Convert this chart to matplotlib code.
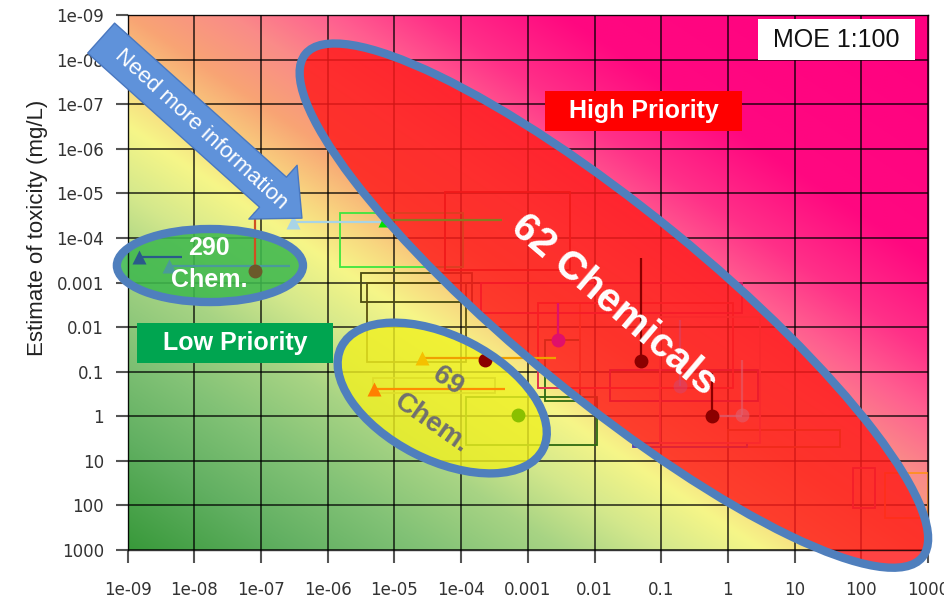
import numpy as np
import matplotlib
matplotlib.use("Agg")
import matplotlib.pyplot as plt
from matplotlib.colors import to_rgb, to_rgba
from matplotlib.patches import Ellipse, Rectangle, FancyArrowPatch, ArrowStyle
from matplotlib.transforms import Affine2D, ScaledTranslation

# ---------------- data ----------------
x_ticks = [1e-9, 1e-8, 1e-7, 1e-6, 1e-5, 1e-4, 1e-3, 1e-2, 1e-1, 1, 10, 100, 1000]
x_tick_labels = ["1e-09", "1e-08", "1e-07", "1e-06", "1e-05", "1e-04", "0.001",
                 "0.01", "0.1", "1", "10", "100", "1000"]
y_ticks = [1e-9, 1e-8, 1e-7, 1e-6, 1e-5, 1e-4, 1e-3, 1e-2, 1e-1, 1, 10, 100, 1000]
y_tick_labels = ["1e-09", "1e-08", "1e-07", "1e-06", "1e-05", "1e-04", "0.001",
                 "0.01", "0.1", "1", "10", "100", "1000"]

# uncertainty boxes (exposure range x toxicity range)
rect_x0 = [1.5e-6, 3.2e-6, 3.9e-6, 4.8e-6, 1.2e-4, 1.8e-3, 1.4e-3, 0.017, 1.0, 0.038,
           2.0e-4, 1.4e-3, 0.096, 75, 230, 5.7e-5]
rect_x1 = [1.07e-4, 1.45e-4, 1.2e-4, 3.2e-4, 0.011, 6.0e-3, 6.0e-3, 2.8, 48, 1.9,
           1.6, 1.2, 3.0, 160, 1000, 4.3e-3]
rect_y0 = [2.8e-5, 6.0e-4, 1.0e-3, 0.14, 0.37, 0.019, 2.9e-3, 0.092, 2.0, 4.0,
           1.0e-3, 2.9e-3, 5.9e-3, 14.5, 19, 9.5e-6]
rect_y1 = [4.5e-4, 2.7e-3, 0.061, 0.30, 4.5, 0.46, 0.23, 0.46, 4.9, 4.9,
           4.8e-3, 0.23, 4.0, 115, 190, 5.2e-4]
rect_colors = ["#3ee63e", "#4a4a10", "#5a5010", "#a09a50", "#2e6a10", "#2e6a10",
               "#e07a40", "#902080", "#b07020", "#5040b0", "#d0206a", "#e03050",
               "#e07080", "#c03070", "#ff9020", "#b01818"]

# point estimates
pt_x = [3.0e-7, 7.3e-6, 8.1e-8, 1.5e-9, 4.2e-9, 2.6e-5, 2.3e-4, 4.9e-6, 7.1e-4,
        2.8e-3, 0.050, 0.58, 1.6, 0.19]
pt_y = [4.4e-5, 4.0e-5, 5.5e-4, 2.7e-4, 4.3e-4, 0.049, 0.055, 0.245, 0.93,
        0.019, 0.058, 0.99, 0.95, 0.21]
pt_marker = ["^", "^", "o", "^", "^", "^", "o", "^", "o", "o", "o", "o", "o", "o"]
pt_color = ["#a8d4e6", "#00e000", "#6b5a2a", "#2a5a8a", "#4a9a9a", "#f5c000",
            "#8b0000", "#ff8000", "#8ac000", "#e0106a", "#8b0000", "#8b0000",
            "#e06070", "#c05090"]
pt_alpha = [1, 1, 1, 1, 1, 1, 1, 1, 1, 1, 1, 1, 0.6, 0.35]

# range segments
seg_x0 = [3.0e-7, 7.3e-6, 8.1e-8, 1.5e-9, 4.2e-9, 2.6e-5, 4.9e-6, 2.8e-3, 0.050, 0.58, 0.58, 1.6, 0.19]
seg_x1 = [8.5e-6, 4.1e-4, 8.1e-8, 6.5e-9, 2.7e-7, 2.6e-3, 4.6e-4, 2.8e-3, 0.050, 0.58, 1.6, 1.6, 0.19]
seg_y0 = [4.4e-5, 4.0e-5, 2.6e-5, 2.7e-4, 4.3e-4, 0.049, 0.245, 2.9e-3, 2.8e-4, 0.107, 0.99, 0.055, 6.9e-3]
seg_y1 = [4.4e-5, 4.0e-5, 5.5e-4, 2.7e-4, 4.3e-4, 0.049, 0.245, 0.019, 0.058, 0.99, 0.99, 0.95, 0.21]
seg_color = ["#a8d4e6", "#8a7a20", "#d05020", "#2a5a8a", "#4a9a9a", "#f0a000", "#ff8c00",
             "#e0106a", "#8b0000", "#8b0000", "#e06070", "#e06070", "#c05090"]
seg_alpha = [1, 1, 1, 1, 1, 1, 1, 1, 1, 1, 0.8, 0.6, 0.35]

# ---------------- figure ----------------
W, H, DPI = 944, 598, 100
fig = plt.figure(figsize=(W / DPI, H / DPI), dpi=DPI)
pos = [127.7 / W, 48 / H, 800.3 / W, 535 / H]

# background risk gradient (log toxicity - log exposure)
bg = fig.add_axes(pos, zorder=0)
nu, nv = 500, 340
u = np.linspace(0, 1, nu)
v = np.linspace(0, 1, nv)
U, V = np.meshgrid(u, v)
logx = -9 + 12 * U
logy = 3 - 12 * V
t = logy - logx - 2.5
nodes = [-15, -9, -7, -5.5, -4, -2.5, -1, 0, 1.5, 3, 5, 7, 9.5, 12]
ncols = ["#ff0080", "#ff0880", "#ff3088", "#ff6090", "#fa8c88", "#f8a474", "#f8d880",
         "#f6f688", "#d4e88c", "#a8d484", "#82c276", "#62b062", "#38993a", "#339535"]
rgb = np.array([to_rgb(c) for c in ncols])
img = np.zeros((nv, nu, 3))
for k in range(3):
    img[..., k] = np.interp(t, nodes, rgb[:, k])
bg.imshow(img, origin="lower", extent=(0, 1, 0, 1), aspect="auto", interpolation="bilinear")
bg.set_axis_off()

ax = fig.add_axes(pos, zorder=1)
ax.patch.set_alpha(0)
ax.set_xscale("log")
ax.set_yscale("log")
ax.set_xlim(1e-9, 1e3)
ax.set_ylim(1e3, 1e-9)
ax.set_xticks(x_ticks)
ax.set_xticklabels(x_tick_labels)
ax.set_yticks(y_ticks)
ax.set_yticklabels(y_tick_labels)
ax.minorticks_off()
ax.set_axisbelow(True)
ax.grid(True, which="major", color="black", lw=1.1, alpha=0.85)
ax.tick_params(direction="out", length=9, width=1.5, color="#555555",
               labelsize=12, labelcolor="#333333")
ax.tick_params(axis="x", pad=13)
ax.tick_params(axis="y", pad=8)
for s in ax.spines.values():
    s.set_color("black")
    s.set_alpha(0.8)
    s.set_linewidth(1.0)

# boxes
for x0, x1, y0, y1, c in zip(rect_x0, rect_x1, rect_y0, rect_y1, rect_colors):
    ax.add_patch(Rectangle((x0, y0), x1 - x0, y1 - y0, fill=False, ec=c, lw=1.3, zorder=0.8))
# segments
for x0, x1, y0, y1, c, a in zip(seg_x0, seg_x1, seg_y0, seg_y1, seg_color, seg_alpha):
    ax.plot([x0, x1], [y0, y1], color=c, lw=1.6, alpha=a, zorder=3, solid_capstyle="butt")
# points
for x, y, m, c, a in zip(pt_x, pt_y, pt_marker, pt_color, pt_alpha):
    ax.plot([x], [y], marker=m, ms=10, color=c, alpha=a, mec="none", zorder=4)

# ---------------- annotations ----------------
def at(xc, yc):
    return Affine2D().scale(DPI / 72.0) + ScaledTranslation(xc, yc, ax.transData)

EDGE = "#4f7fbd"

def ellipse(xc, yc, a_pt, b_pt, ang, fc, alpha):
    ax.add_patch(Ellipse((0, 0), 2 * a_pt, 2 * b_pt, angle=ang, fc=to_rgba(fc, alpha),
                         ec="none", transform=at(xc, yc), zorder=1.5, clip_on=False))
    ax.add_patch(Ellipse((0, 0), 2 * a_pt, 2 * b_pt, angle=ang, fill=False,
                         ec=EDGE, lw=6.0, transform=at(xc, yc), zorder=5, clip_on=False))

def label_box(xc, yc, w_pt, h_pt, fc, text, color, weight):
    ax.add_patch(Rectangle((-w_pt / 2, -h_pt / 2), w_pt, h_pt, fc=fc, ec="none",
                           transform=at(xc, yc), zorder=7, clip_on=False))
    ax.text(xc, yc, text, ha="center", va="center", fontsize=18, color=color,
            fontweight=weight, family="Liberation Sans", zorder=8)

# red ellipse (62 chemicals)
ellipse(0.0195, 3.3e-3, 286.6, 68.4, -39.2, "#ff1a1a", 0.82)
ax.text(0.0195, 3.2e-3, "62 Chemicals", rotation=-40.4, rotation_mode="anchor",
        ha="center", va="center", fontsize=29, fontweight="bold", color="white",
        family="Liberation Sans", zorder=8)

# green ellipse (290 chem.)
ellipse(1.71e-8, 4.16e-4, 67.0, 26.3, 0, "#3fb94e", 0.88)
ax.text(1.66e-8, 1.69e-4, "290", ha="center", va="center", fontsize=18,
        fontweight="bold", color="white", family="Liberation Sans", zorder=8)
ax.text(1.66e-8, 8.8e-4, "Chem.", ha="center", va="center", fontsize=18,
        fontweight="bold", color="white", family="Liberation Sans", zorder=8)

# yellow ellipse (69 chem.)
ellipse(5.2e-5, 0.39, 81.4, 44.6, -27, "#f0f020", 0.8)
ax.text(6.3e-5, 0.162, "69", rotation=-35, rotation_mode="anchor", ha="center", va="center",
        fontsize=20, fontweight="bold", color="#707070", family="Liberation Sans", zorder=8)
ax.text(3.66e-5, 1.49, "Chem.", rotation=-35, rotation_mode="anchor", ha="center", va="center",
        fontsize=20, fontweight="bold", color="#707070", family="Liberation Sans", zorder=8)

# label boxes
label_box(0.054, 1.42e-7, 141.8, 28.8, "#ff0000", "High Priority", "white", "bold")
label_box(4.1e-8, 0.0228, 141.1, 28.8, "#00a550", "Low Priority", "white", "bold")
label_box(42.5, 3.55e-9, 113.0, 29.5, "white", "MOE 1:100", "#111111", "normal")

# "Need more information" arrow
arrow = FancyArrowPatch((4.0e-10, 3.3e-9), (4.1e-7, 3.6e-5),
                        arrowstyle=ArrowStyle("Simple", head_length=28, head_width=52, tail_width=29),
                        mutation_scale=1, shrinkA=0, shrinkB=0, fc="#5f92da", ec="#4a78c0",
                        lw=1, zorder=6, clip_on=False)
ax.add_patch(arrow)
ax.text(1.25e-8, 3.6e-7, "Need more information", rotation=-42.5, rotation_mode="anchor",
        ha="center", va="center", fontsize=16, color="white", family="Liberation Sans", zorder=8)

fig.text(38 / W, 1 - 227.5 / H, "Estimate of toxicity (mg/L)", rotation=90, ha="center",
         va="center", fontsize=16, color="#222222", family="Liberation Sans")

fig.savefig("out.png", dpi=DPI)
